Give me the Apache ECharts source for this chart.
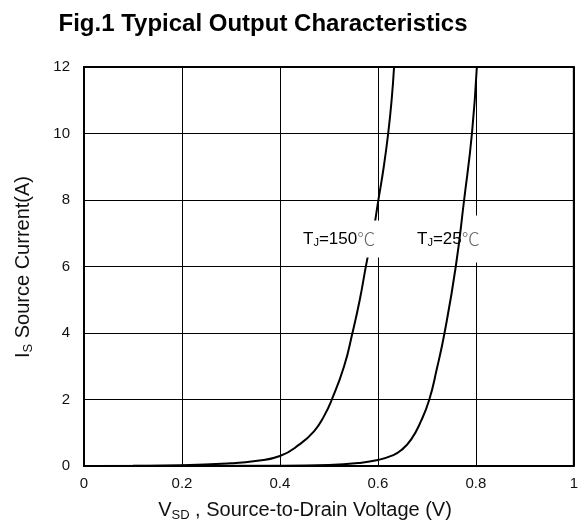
<!DOCTYPE html>
<html>
<head>
<meta charset="utf-8">
<script src="https://cdn.jsdelivr.net/npm/echarts@6/dist/echarts.min.js"></script>
<style>
  html, body { margin: 0; padding: 0; background: #fff; }
  #main { width: 581px; height: 522px; }
</style>
</head>
<body>
<div id="main"></div>
<script>
// Is vs Vsd
var vsd150 = [0, 0.1, 0.2, 0.3, 0.35, 0.4, 0.44, 0.47, 0.49, 0.506, 0.531, 0.548, 0.563, 0.578, 0.59, 0.601, 0.612, 0.621, 0.628, 0.633];
var is150  = [0, 0.005, 0.02, 0.08, 0.15, 0.3, 0.65, 1.05, 1.5, 2.0, 3.0, 4.0, 5.0, 6.2, 7.0, 8.0, 9.0, 10.0, 11.0, 12.0];
var vsd25 = [0, 0.4, 0.5, 0.56, 0.6, 0.63, 0.648, 0.668, 0.688, 0.705, 0.72, 0.736, 0.759, 0.776, 0.792, 0.802];
var is25  = [0, 0.005, 0.03, 0.09, 0.18, 0.32, 0.48, 0.8, 1.35, 2.0, 2.9, 4.0, 6.0, 8.0, 10.0, 12.0];
var xTicks = [0, 0.2, 0.4, 0.6, 0.8, 1];
var yTicks = [0, 2, 4, 6, 8, 10, 12];

function pairs(xs, ys) {
    var out = [];
    for (var i = 0; i < xs.length; i++) out.push([xs[i], ys[i]]);
    return out;
}

var font = 'Liberation Sans, Arial, sans-serif';
var myChart = echarts.init(document.getElementById('main'));
var option = {
    animation: false,
    title: {
        text: 'Fig.1 Typical Output Characteristics',
        left: 258,
        top: 7,
        textAlign: 'center',
        textStyle: { fontFamily: font, fontSize: 24, fontWeight: 'bold', color: '#000' }
    },
    grid: {
        left: 84, right: 4, top: 67, bottom: 56,
        show: true, borderColor: '#000', borderWidth: 2
    },
    xAxis: {
        type: 'value',
        min: 0, max: 1, interval: 0.2,
        axisLine: { show: false },
        axisTick: { show: false },
        splitLine: { lineStyle: { color: '#000', width: 1 } },
        axisLabel: {
            margin: 10, color: '#111', fontFamily: font, fontSize: 15,
            formatter: function (v) {
                for (var i = 0; i < xTicks.length; i++) if (Math.abs(v - xTicks[i]) < 1e-9) return String(xTicks[i]);
                return '';
            }
        }
    },
    yAxis: {
        type: 'value',
        min: 0, max: 12, interval: 2,
        axisLine: { show: false },
        axisTick: { show: false },
        splitLine: { lineStyle: { color: '#000', width: 1 } },
        axisLabel: {
            margin: 14, color: '#111', fontFamily: font, fontSize: 15,
            formatter: function (v) { return yTicks.indexOf(v) >= 0 ? String(v) : ''; }
        }
    },
    graphic: [
        {
            type: 'text', x: 305, y: 510, z: 5,
            style: {
                text: '{m|V}{s|SD}{m| , Source-to-Drain Voltage (V)}',
                align: 'center', verticalAlign: 'middle',
                rich: {
                    m: { fontFamily: font, fontSize: 20, fill: '#111' },
                    s: { fontFamily: font, fontSize: 13, fill: '#111', padding: [10, 0, 0, 0] }
                }
            }
        },
        {
            type: 'text', x: 23, y: 267, rotation: Math.PI / 2, z: 5,
            style: {
                text: '{m|I}{s|S}{m| Source Current(A)}',
                align: 'center', verticalAlign: 'middle',
                rich: {
                    m: { fontFamily: font, fontSize: 20, fill: '#111' },
                    s: { fontFamily: font, fontSize: 13, fill: '#111', padding: [10, 0, 0, 0] }
                }
            }
        },
        {
            type: 'text', x: 301, y: 239, z: 10,
            style: {
                text: '{m|T}{s|J}{m|=150}{c|℃}',
                verticalAlign: 'middle',
                backgroundColor: '#fff', padding: [9, 6, 9, 2],
                rich: {
                    m: { fontFamily: font, fontSize: 17, fill: '#000' },
                    s: { fontFamily: font, fontSize: 11, fill: '#000', padding: [8, 0, 0, 0] },
                    c: { fontFamily: 'Noto Sans CJK SC', fontSize: 18, fontWeight: 300, fill: '#666' }
                }
            }
        },
        {
            type: 'text', x: 415, y: 239, z: 1,
            style: {
                text: '{m|T}{s|J}{m|=25}{c|℃}',
                verticalAlign: 'middle',
                backgroundColor: '#fff', padding: [14, 2, 14, 2],
                rich: {
                    m: { fontFamily: font, fontSize: 17, fill: '#000' },
                    s: { fontFamily: font, fontSize: 11, fill: '#000', padding: [8, 0, 0, 0] },
                    c: { fontFamily: 'Noto Sans CJK SC', fontSize: 18, fontWeight: 300, fill: '#666' }
                }
            }
        }
    ],
    series: [
        {
            name: '150', type: 'line', smooth: 0.5, showSymbol: false,
            lineStyle: { color: '#000', width: 2 },
            data: pairs(vsd150, is150)
        },
        {
            name: '25', type: 'line', smooth: 0.5, showSymbol: false,
            lineStyle: { color: '#000', width: 2 },
            data: pairs(vsd25, is25)
        }
    ]
};
myChart.setOption(option);
</script>
</body>
</html>
